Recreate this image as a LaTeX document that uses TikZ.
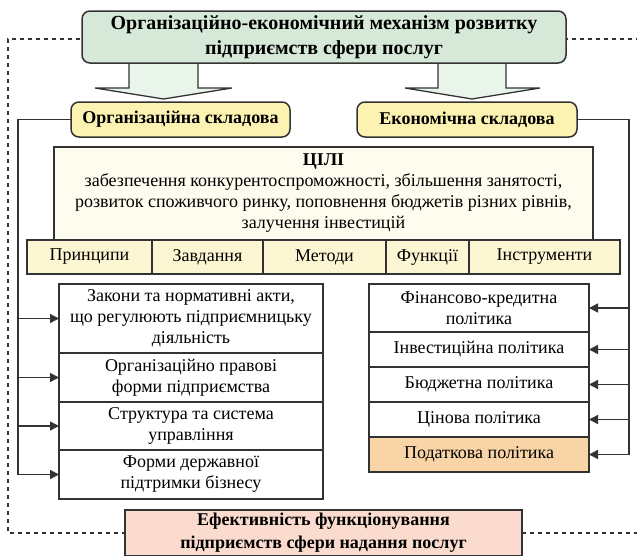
\documentclass[tikz,border=0pt]{standalone}
\usepackage{fontspec}
\setmainfont{Liberation Serif}
\usetikzlibrary{arrows.meta}
\definecolor{linec}{HTML}{333333}
\definecolor{titlefill}{HTML}{D6E9D8}
\definecolor{arrfill}{HTML}{E9F4EA}
\definecolor{compfill}{HTML}{FCF3B2}
\definecolor{goalfill}{HTML}{FEFBEF}
\definecolor{cellfill}{HTML}{FDF6D2}
\definecolor{taxfill}{HTML}{F9D4A6}
\definecolor{efffill}{HTML}{FADBCE}
\begin{document}
\begin{tikzpicture}[x=1pt,y=-1pt,
  every node/.style={inner sep=0pt, outer sep=0pt, align=center, font=\fontsize{18}{21}\selectfont},
  frame/.style={draw=linec, line width=1.5pt},
  rbox/.style={frame, rounded corners=8pt},
  boldtext/.style={font=\bfseries\fontsize{18}{23}\selectfont},
  conn/.style={draw=linec, line width=1.4pt},
  arr/.style={conn, -{Triangle[length=9pt,width=9pt]}},
  dashline/.style={draw=linec, line width=1.4pt, dash pattern=on 4pt off 4pt},
  blockarrow/.style={frame, fill=arrfill, line width=1.3pt},
]
\clip (0,0) rectangle (637,555);
% dashed frame
\draw[dashline] (640,39) -- (8,39) -- (8,533) -- (640,533);
% block arrows
\draw[blockarrow] (129,55) -- (129,88) -- (95,88) -- (163.5,99) -- (232,88) -- (198,88) -- (198,55) -- cycle;
\draw[blockarrow] (438,55) -- (438,88) -- (405,88) -- (472,99) -- (540,88) -- (506,88) -- (506,55) -- cycle;
% title
\node[rbox, fill=titlefill, minimum width=484pt, minimum height=52pt, font=\bfseries\fontsize{20}{25}\selectfont] (title) at (324,37)
  {Організаційно-економічний механізм розвитку\\підприємств сфери послуг};
% components
\node[rbox, boldtext, fill=compfill, minimum width=219pt, minimum height=35pt] (org) at (180.5,119.5) {Організаційна складова};
\node[rbox, boldtext, fill=compfill, minimum width=220pt, minimum height=35pt] (econ) at (467,119.5) {Економічна складова};
% goals
\node[frame, fill=goalfill, minimum width=539pt, minimum height=93pt] (goals) at (323.5,193.5)
  {\textbf{ЦІЛІ}\\забезпечення конкурентоспроможності, збільшення занятості,\\розвиток споживчого ринку, поповнення бюджетів різних рівнів,\\залучення інвестицій};
% cells
\node[frame, fill=cellfill, minimum width=125pt, minimum height=34pt] (c1) at (89.5,257) {Принципи};
\node[frame, fill=cellfill, minimum width=111pt, minimum height=34pt] (c2) at (207.5,257) {Завдання};
\node[frame, fill=cellfill, minimum width=123pt, minimum height=34pt] (c3) at (324.5,257) {Методи};
\node[frame, fill=cellfill, minimum width=83pt, minimum height=34pt] (c4) at (427.5,257) {Функції};
\node[frame, fill=cellfill, minimum width=151pt, minimum height=34pt] (c5) at (544.5,257) {Інструменти};
% left boxes
\node[frame, fill=white, minimum width=264pt, minimum height=69pt] (l1) at (191,318.5) {Закони та нормативні акти,\\що регулюють підприємницьку\\діяльність};
\node[frame, fill=white, minimum width=264pt, minimum height=49pt] (l2) at (191,377.5) {Організаційно правові\\форми підприємства};
\node[frame, fill=white, minimum width=264pt, minimum height=48pt] (l3) at (191,426) {Структура та система\\управління};
\node[frame, fill=white, minimum width=264pt, minimum height=49pt] (l4) at (191,474.5) {Форми державної\\підтримки бізнесу};
% right boxes
\node[frame, fill=white, minimum width=220pt, minimum height=48pt] (r1) at (479,308) {Фінансово-кредитна\\політика};
\node[frame, fill=white, minimum width=220pt, minimum height=35pt] (r2) at (479,349.5) {Інвестиційна політика};
\node[frame, fill=white, minimum width=220pt, minimum height=35pt] (r3) at (479,384.5) {Бюджетна політика};
\node[frame, fill=white, minimum width=220pt, minimum height=35pt] (r4) at (479,419.5) {Цінова політика};
\node[frame, fill=taxfill, minimum width=220pt, minimum height=35pt] (r5) at (479,454.5) {Податкова політика};
% bottom
\node[frame, boldtext, fill=efffill, minimum width=397pt, minimum height=46pt] (eff) at (323.5,533)
  {Ефективність функціонування\\підприємств сфери надання послуг};
% connectors
\coordinate (lx) at (18,0);
\coordinate (rx) at (629,0);
\draw[arr] (org.west) -| (lx |- l4.west) -- (l4.west);
\draw[arr] (lx |- l1.west) -- (l1.west);
\draw[arr] (lx |- l2.west) -- (l2.west);
\draw[arr] (lx |- l3.west) -- (l3.west);
\draw[arr] (econ.east) -| (rx |- r5.east) -- (r5.east);
\draw[arr] (rx |- r1.east) -- (r1.east);
\draw[arr] (rx |- r2.east) -- (r2.east);
\draw[arr] (rx |- r3.east) -- (r3.east);
\draw[arr] (rx |- r4.east) -- (r4.east);
\end{tikzpicture}
\end{document}
